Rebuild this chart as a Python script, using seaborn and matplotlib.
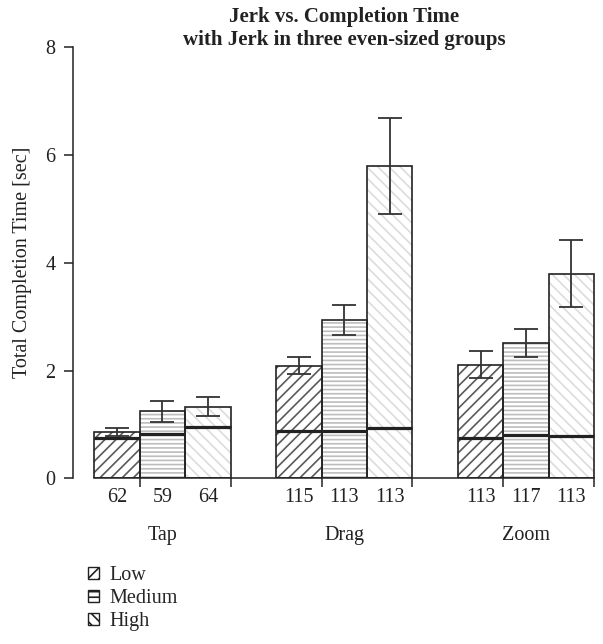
import matplotlib
matplotlib.use("Agg")
import matplotlib.pyplot as plt
import matplotlib.transforms as mtransforms
from matplotlib.patches import Patch, Rectangle
import seaborn as sns
import pandas as pd

# ---- data ----
groups = ["Tap", "Drag", "Zoom"]
levels = ["Low", "Medium", "High"]
mean_tap = [0.86, 1.24, 1.33]
mean_drag = [2.09, 2.94, 5.80]
mean_zoom = [2.11, 2.51, 3.80]
err_tap = [0.07, 0.20, 0.18]
err_drag = [0.16, 0.28, 0.89]
err_zoom = [0.25, 0.26, 0.62]
median_tap = [0.75, 0.83, 0.95]
median_drag = [0.87, 0.88, 0.94]
median_zoom = [0.74, 0.81, 0.79]
count_tap = [62, 59, 64]
count_drag = [115, 113, 113]
count_zoom = [113, 117, 113]
yticks = [0, 2, 4, 6, 8]

means = [mean_tap, mean_drag, mean_zoom]
errs = [err_tap, err_drag, err_zoom]
medians = [median_tap, median_drag, median_zoom]
counts = [count_tap, count_drag, count_zoom]

rows = []
for gi, g in enumerate(groups):
    for li, l in enumerate(levels):
        rows.append({"group": g, "level": l, "time": means[gi][li],
                     "err": errs[gi][li], "median": medians[gi][li],
                     "n": counts[gi][li]})
df = pd.DataFrame(rows)

sns.set_style("white")
plt.rcParams["font.family"] = ["Liberation Serif", "DejaVu Serif"]
plt.rcParams["hatch.linewidth"] = 1.2

FS = 14.5
TXT = "#222222"
hatches = {"Low": "///", "Medium": "----", "High": "\\\\\\"}
hatch_colors = {"Low": "#5a5a5a", "Medium": "#bdbdbd", "High": "#dcdcdc"}
edge = "#222222"

fig = plt.figure(figsize=(6.03, 6.44), dpi=100)
ax = fig.add_axes([73 / 603, 1 - 478.3 / 644, 527 / 603, (478.3 - 47.3) / 644])

sns.barplot(data=df, x="group", y="time", hue="level", order=groups,
            hue_order=levels, palette=["white"] * 3, errorbar=None,
            width=0.75, gap=0, legend=False, ax=ax, linewidth=0)

trans = mtransforms.blended_transform_factory(ax.transData, ax.transAxes)
for li, (lvl, cont) in enumerate(zip(levels, ax.containers)):
    for gi, p in enumerate(cont.patches):
        p.set_hatch(hatches[lvl])
        p.set_edgecolor(hatch_colors[lvl])
        p.set_linewidth(0)
        x0, w, h = p.get_x(), p.get_width(), p.get_height()
        ax.add_patch(Rectangle((x0, 0), w, h, fill=False, edgecolor=edge,
                               linewidth=1.2, zorder=3))
        row = df[(df.group == groups[gi]) & (df.level == lvl)].iloc[0]
        xc = x0 + w / 2
        ax.hlines(row["median"], x0, x0 + w, color=edge, linewidth=2.3, zorder=4)
        ax.errorbar(xc, row["time"], yerr=row["err"], color="#333333",
                    elinewidth=1.3, capsize=8.5, capthick=1.3, zorder=5, fmt="none")
        ax.text(xc, -19 / 431, str(row["n"]), transform=trans, ha="center",
                va="center", fontsize=FS, color=TXT)

# group labels
for gi, g in enumerate(groups):
    ax.text(gi, -57 / 431, g, transform=trans, ha="center", va="center",
            fontsize=FS, color=TXT)

ax.set_xlim(-0.492, 2.407)
ax.set_ylim(0, 8)
ax.set_yticks(yticks)
ax.set_yticklabels([str(v) for v in yticks], fontsize=FS, color=TXT)
tick_pos = []
for gi in range(len(groups)):
    tick_pos += [gi - 0.125, gi + 0.375]
ax.set_xticks(tick_pos)
ax.set_xticklabels([""] * len(tick_pos))
ax.tick_params(axis="both", direction="out", length=6.5, width=1.1,
               color=edge, pad=6, bottom=True, left=True)
ax.set_xlabel("")
ax.set_ylabel("Total Completion Time [sec]", fontsize=FS, color=TXT,
              labelpad=9.5)

for s in ["top", "right"]:
    ax.spines[s].set_visible(False)
for s in ["left", "bottom"]:
    ax.spines[s].set_color(edge)
    ax.spines[s].set_linewidth(1.1)
ax.spines["left"].set_bounds(0, 8)
ax.spines["bottom"].set_bounds(-0.375, 2.375)

ax.text(1.0, 1.0 + 19 / 431, "Jerk vs. Completion Time\nwith Jerk in three even-sized groups",
        transform=trans, ha="center", va="center", fontsize=15,
        fontweight="bold", color=TXT, linespacing=1.2)

handles = [Patch(facecolor="white", edgecolor="#222222",
                 hatch=hatches[l] if l != "Medium" else "---", linewidth=1.0)
           for l in levels]
fig.legend(handles, levels, loc="upper left", bbox_to_anchor=(80 / 603, 1 - 558 / 644),
           frameon=False, fontsize=FS, handlelength=0.55, handleheight=0.55,
           handletextpad=0.5, labelspacing=0.2, borderaxespad=0)

fig.savefig("out.png", dpi=100)
